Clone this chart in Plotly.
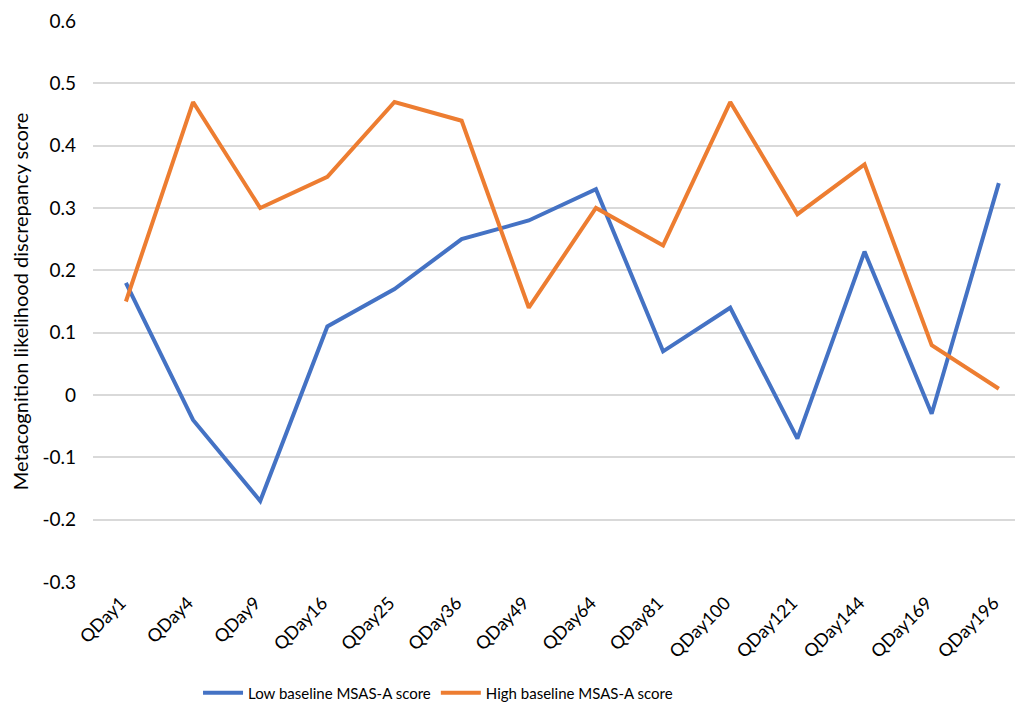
import plotly.graph_objects as go

categories = ["QDay1", "QDay4", "QDay9", "QDay16", "QDay25", "QDay36", "QDay49",
              "QDay64", "QDay81", "QDay100", "QDay121", "QDay144", "QDay169", "QDay196"]
low_baseline = [0.18, -0.04, -0.17, 0.11, 0.17, 0.25, 0.28, 0.33, 0.07, 0.14, -0.07, 0.23, -0.03, 0.34]
high_baseline = [0.15, 0.47, 0.30, 0.35, 0.47, 0.44, 0.14, 0.30, 0.24, 0.47, 0.29, 0.37, 0.08, 0.01]
y_ticks = [-0.3, -0.2, -0.1, 0, 0.1, 0.2, 0.3, 0.4, 0.5, 0.6]
y_tick_labels = ["-0.3", "-0.2", "-0.1", "0", "0.1", "0.2", "0.3", "0.4", "0.5", "0.6"]

FONT = "Lato, Open Sans, sans-serif"

fig = go.Figure()
fig.add_trace(go.Scatter(x=categories, y=low_baseline, mode="lines",
                         name="Low baseline MSAS-A score",
                         line=dict(color="#4472C4", width=4)))
fig.add_trace(go.Scatter(x=categories, y=high_baseline, mode="lines",
                         name="High baseline MSAS-A score",
                         line=dict(color="#ED7D31", width=4)))

fig.update_layout(
    width=1015, height=707,
    margin=dict(l=85, r=0, t=13, b=133),
    plot_bgcolor="white", paper_bgcolor="white",
    font=dict(family=FONT, size=16, color="#000000"),
    showlegend=True,
    legend=dict(orientation="h", x=0.371, xanchor="center", y=-0.198, yanchor="middle",
                font=dict(size=15), itemwidth=40, traceorder="normal"),
    xaxis=dict(type="category", range=[-0.49, 13.36], tickangle=-45,
               showgrid=False, showline=False, zeroline=False, ticks="",
               tickfont=dict(size=18), automargin=False,
               ticklabelstandoff=6, ticklabelshift=-5),
    yaxis=dict(range=[-0.3, 0.6], tickvals=y_ticks, ticktext=y_tick_labels,
               showgrid=True, gridcolor="#D9D9D9", gridwidth=1.5,
               zeroline=False, showline=False, ticks="", ticklabelstandoff=16,
               tickfont=dict(size=19), automargin=False,
               title=dict(text="Metacognition likelihood discrepancy score",
                          font=dict(size=20), standoff=11)),
)

fig.write_html("out.html")
